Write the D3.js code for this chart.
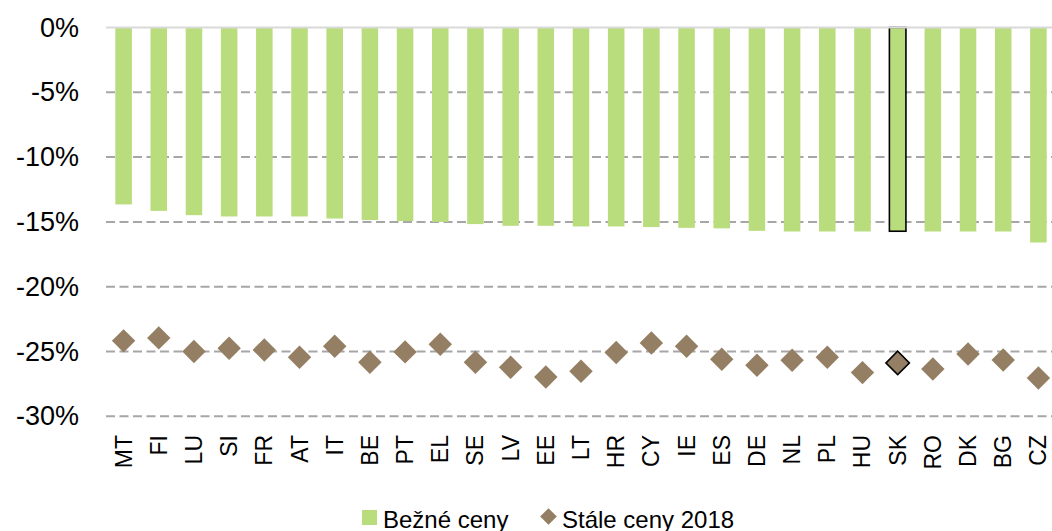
<!DOCTYPE html>
<html>
<head>
<meta charset="utf-8">
<script src="https://cdn.jsdelivr.net/npm/d3@7"></script>
<style>
  body { margin: 0; background: #fff; }
  svg text { font-family: Arial, "Liberation Sans", sans-serif; fill: #000; }
</style>
</head>
<body>
<div id="chart"></div>
<script>
// chart values
const countries = ["MT","FI","LU","SI","FR","AT","IT","BE","PT","EL","SE","LV","EE","LT","HR","CY","IE","ES","DE","NL","PL","HU","SK","RO","DK","BG","CZ"];
const currentPrices = [-13.65,-14.15,-14.48,-14.58,-14.58,-14.58,-14.74,-14.86,-14.94,-15.0,-15.17,-15.3,-15.3,-15.35,-15.35,-15.4,-15.46,-15.5,-15.69,-15.74,-15.74,-15.74,-15.72,-15.74,-15.74,-15.74,-16.59];
const constantPrices = [-24.18,-23.95,-25.0,-24.75,-24.88,-25.44,-24.59,-25.83,-25.03,-24.44,-25.83,-26.22,-26.97,-26.53,-25.08,-24.34,-24.59,-25.6,-26.06,-25.68,-25.44,-26.63,-25.88,-26.35,-25.19,-25.65,-27.04];
const yTicks = [0,-5,-10,-15,-20,-25,-30];
const seriesNames = ["Bežné ceny","Stále ceny 2018"];
const highlight = "SK";

const width = 1052;
const height = 531;
const barColor = "#b9dc7c";
const dotColor = "#957f64";

const svg = d3.select("#chart")
  .append("svg")
  .attr("width", width)
  .attr("height", height);

// scales
const x = d3.scaleBand()
  .domain(countries)
  .range([106, 1056])
  .paddingInner(0.53)
  .paddingOuter(0.265);

const y = d3.scaleLinear()
  .domain([-30, 0])
  .range([416.3, 27.5]);

// dashed gridlines
svg.append("g")
  .selectAll("line")
  .data(yTicks.filter(t => t !== 0))
  .join("line")
    .attr("x1", 106)
    .attr("x2", width)
    .attr("y1", d => y(d))
    .attr("y2", d => y(d))
    .attr("stroke", "#a6a6a6")
    .attr("stroke-width", 2)
    .attr("stroke-dasharray", "9,4.5");

// y axis labels
const yAxis = svg.append("g")
  .attr("transform", "translate(106,0)")
  .call(d3.axisLeft(y).tickValues(yTicks).tickFormat(d => d + "%").tickSize(0).tickPadding(27));
yAxis.select(".domain").remove();
yAxis.selectAll("text")
  .attr("font-size", "27px")
  .attr("font-family", "Arial, 'Liberation Sans', sans-serif");

// bars
svg.selectAll(".bar")
  .data(countries)
  .join("rect")
    .attr("class", "bar")
    .attr("x", d => x(d))
    .attr("width", x.bandwidth())
    .attr("y", y(0))
    .attr("height", (d, i) => y(currentPrices[i]) - y(0))
    .attr("fill", barColor)
    .attr("stroke", d => d === highlight ? "#000" : "none")
    .attr("stroke-width", 1.6);

// zero line
svg.append("line")
  .attr("x1", 106)
  .attr("x2", width)
  .attr("y1", y(0))
  .attr("y2", y(0))
  .attr("stroke", "#d9d9d9")
  .attr("stroke-width", 2);

// diamonds
const diamond = d3.symbol().type(d3.symbolSquare).size(275);
svg.selectAll(".dot")
  .data(countries)
  .join("path")
    .attr("class", "dot")
    .attr("d", diamond)
    .attr("transform", (d, i) => `translate(${x(d) + x.bandwidth() / 2},${y(constantPrices[i])}) rotate(45)`)
    .attr("fill", dotColor)
    .attr("stroke", d => d === highlight ? "#000" : "none")
    .attr("stroke-width", 1.6);

// x labels, rotated
svg.append("g")
  .selectAll("text")
  .data(countries)
  .join("text")
    .attr("transform", d => `translate(${x(d) + x.bandwidth() / 2 + 8},435) rotate(-90)`)
    .attr("text-anchor", "end")
    .attr("font-size", "23px")
    .text(d => d);

// legend
const legend = svg.append("g");
legend.append("rect")
  .attr("x", 362).attr("y", 510)
  .attr("width", 15).attr("height", 15)
  .attr("fill", barColor);
legend.append("text")
  .attr("x", 383).attr("y", 528)
  .attr("font-size", "24px")
  .text(seriesNames[0]);
legend.append("path")
  .attr("d", d3.symbol().type(d3.symbolSquare).size(140))
  .attr("transform", "translate(548.5,516.5) rotate(45)")
  .attr("fill", dotColor);
legend.append("text")
  .attr("x", 562).attr("y", 528)
  .attr("font-size", "24px")
  .text(seriesNames[1]);
</script>
</body>
</html>
